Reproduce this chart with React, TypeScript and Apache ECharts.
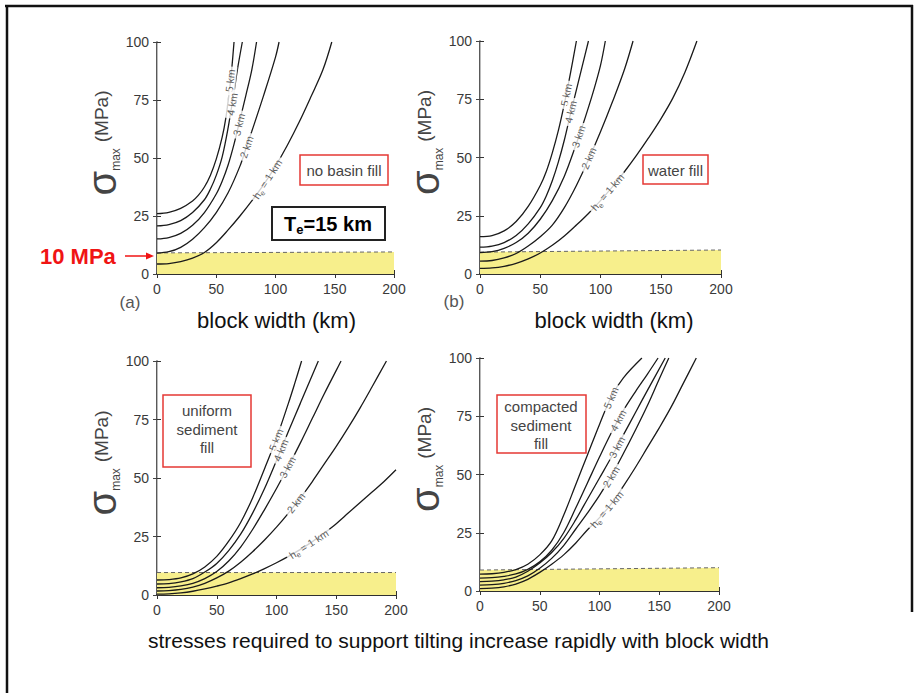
import React, { useEffect, useRef } from "react";
import * as echarts from "echarts";

// ---------- data ----------
const xTickInterval = 50;
const yTickInterval = 25;
const xMax = 200;
const yMax = 100;

const thicknessNames = ["5 km", "4 km", "3 km", "2 km", "h{e|e} = 1 km"];
const panelLetters = ["(a)", "(b)"];
const fillTypes = ["no basin fill", "water fill", "uniform\nsediment\nfill", "compacted\nsediment\nfill"];
const xAxisTitle = "block width (km)";
const caption = "stresses required to support tilting increase rapidly with block width";
const thresholdLabel = "10 MPa";

// (a) no basin fill
const a5 = [[0,26],[10,26.6],[20,28.3],[30,31.5],[35,34],[40,37.5],[45,42.5],[50,49.5],[55,59],[58,67],[61,78.5],[63,88],[65,100]];
const a4 = [[0,20.7],[10,21.3],[20,23],[30,26.5],[40,32],[45,36.5],[50,42.5],[55,50.5],[60,63],[65,78.5],[68,88.5],[72,100]];
const a3 = [[0,15.1],[10,15.7],[20,17.5],[30,21],[40,26.5],[50,34.5],[55,40],[60,47],[65,56],[70,66.5],[75,77],[80,88],[84,100]];
const a2 = [[0,9],[10,9.6],[20,11.5],[30,15],[40,20],[50,26.5],[60,35],[70,46.5],[75,54],[80,61.5],[90,77],[100,93.5],[103,100]];
const a1 = [[0,4.3],[10,4.5],[20,5.3],[30,6.8],[40,9.3],[50,13.5],[60,19],[70,25],[80,31.5],[90,38.5],[100,46.5],[110,55.5],[120,65.5],[130,76.5],[140,88],[147.5,100]];
const bandA = [[0,9.1],[200,9.5]];
const labelXA = [62, 63.3, 69, 75.5, 93];

// (b) water fill
const b5 = [[0,16],[10,16.5],[20,18.5],[30,22.5],[40,29],[50,38],[55,44],[60,52],[65,61.5],[70,73],[75,86],[80,100]];
const b4 = [[0,11.5],[10,12],[20,13.5],[30,16.5],[40,21.5],[50,28.5],[55,33.5],[60,40],[65,48],[70,57.5],[75,68.5],[80,79],[85,89.5],[90,100]];
const b3 = [[0,9.2],[10,9.6],[20,11],[30,13.5],[40,17.5],[50,23.5],[60,31.5],[70,42],[80,56],[85,63.5],[90,71.5],[95,80],[100,89.5],[104,100]];
const b2 = [[0,5.5],[10,5.8],[20,6.9],[30,8.8],[40,12],[50,16],[60,21],[70,28.5],[80,38],[90,49],[100,61],[110,74],[120,88],[127,100]];
const b1 = [[0,2.4],[10,2.6],[20,3.3],[30,4.6],[40,6.5],[50,9],[60,12.3],[70,16.3],[80,21],[90,26],[100,31.5],[110,37.5],[120,44],[130,51],[140,58.5],[150,66.5],[160,75.5],[170,86.5],[180,100]];
const bandB = [[0,9.4],[200,10.3]];
const labelXB = [71.5, 75.5, 82, 90.5, 106];

// (c) uniform sediment fill
const c5 = [[0,6.4],[10,6.6],[20,7.3],[30,9],[40,12],[50,16.5],[60,23],[70,31],[80,41.5],[90,54],[100,67],[110,82],[115,90],[121,100]];
const c4 = [[0,4.7],[10,4.9],[20,5.6],[30,7],[40,9.8],[50,13.5],[60,19],[70,26],[80,35],[90,45.5],[100,57.5],[110,70],[120,82],[130,94],[135,100]];
const c3 = [[0,3.1],[10,3.3],[20,3.9],[30,5],[40,7],[50,10],[60,14.5],[70,20.5],[80,28],[90,36.5],[100,45.5],[110,55],[120,65],[130,75.5],[140,86],[150,96],[154,100]];
const c2 = [[0,1.7],[10,1.9],[20,2.4],[30,3.4],[40,5],[50,7.3],[60,10.2],[70,14],[80,18.5],[90,23.5],[100,29],[110,35],[120,41.5],[130,48.5],[140,56],[150,63.5],[160,71.5],[170,80],[180,89],[192,100]];
const c1 = [[0,0.4],[10,0.5],[20,0.9],[30,1.6],[40,2.6],[50,3.8],[60,5.2],[70,7],[80,9],[90,11.3],[100,13.8],[110,16.5],[120,19.5],[130,22.8],[140,26.5],[150,30.5],[160,35],[170,39.5],[180,44],[190,48.5],[200,53.5]];
const bandC = [[0,9.6],[200,9.6]];
const labelXC = [99.5, 103.5, 109.5, 116.5, 127];

// (d) compacted sediment fill
const d5 = [[0,7.2],[10,7.4],[20,8],[30,9.2],[40,11.5],[50,15.5],[60,21.5],[70,32.5],[80,45.5],[90,58.5],[100,71.5],[110,83.5],[120,91.5],[135.5,100]];
const d4 = [[0,5.5],[10,5.7],[20,6.3],[30,7.3],[40,9.3],[50,12.5],[60,17.5],[70,25],[80,35.5],[90,46.5],[100,57.5],[110,68],[120,77.5],[130,85.5],[140,93],[149,100]];
const d3 = [[0,4],[10,4.2],[20,4.8],[30,6],[40,8.5],[50,12],[60,16.5],[70,22.5],[80,30.5],[90,39.5],[100,48.5],[110,57.5],[120,67],[130,76.5],[140,86],[155,100]];
const d2 = [[0,2.5],[10,2.7],[20,3.3],[30,4.5],[40,6.5],[50,9.8],[60,14],[70,19.5],[80,26.5],[90,33.5],[100,41],[110,49.5],[120,59],[130,69],[140,79.5],[150,91],[158,100]];
const d1 = [[0,1],[10,1.2],[20,1.8],[30,3],[40,5],[50,8],[60,11.5],[70,15.5],[80,20.5],[90,26.3],[100,31.5],[110,37.5],[120,45],[130,53],[140,61.5],[150,70],[160,79],[170,89],[181,100]];
const bandD = [[0,9],[200,10]];
const labelXD = [109.5, 115.5, 114.5, 109.5, 106];

// ---------- layout ----------
const FONT = "'Liberation Sans', Arial, Helvetica, sans-serif";
const grids = [
  { left: 157, top: 42, width: 237, height: 232 },
  { left: 480, top: 41, width: 241, height: 233 },
  { left: 157, top: 361, width: 239, height: 234 },
  { left: 480, top: 358, width: 239, height: 233 },
];
const panels = [
  { curves: [a5, a4, a3, a2, a1], band: bandA, labelX: labelXA },
  { curves: [b5, b4, b3, b2, b1], band: bandB, labelX: labelXB },
  { curves: [c5, c4, c3, c2, c1], band: bandC, labelX: labelXC },
  { curves: [d5, d4, d3, d2, d1], band: bandD, labelX: labelXD },
];

function interp(c: number[][], x: number): number {
  for (let i = 0; i < c.length - 1; i++) {
    if (x >= c[i][0] && x <= c[i + 1][0]) {
      const t = (x - c[i][0]) / (c[i + 1][0] - c[i][0]);
      return c[i][1] + t * (c[i + 1][1] - c[i][1]);
    }
  }
  return c[c.length - 1][1];
}
function slopeAt(c: number[][], x: number): number {
  for (let i = 0; i < c.length - 1; i++) {
    if (x >= c[i][0] && x <= c[i + 1][0]) {
      return (c[i + 1][1] - c[i][1]) / (c[i + 1][0] - c[i][0]);
    }
  }
  return 1;
}

const TXT = "#3a3a3a";

function buildOption() {
  const xAxis: any[] = [];
  const yAxis: any[] = [];
  const series: any[] = [];
  grids.forEach((g, i) => {
    const common = { type: "value", gridIndex: i, splitLine: { show: false } };
    xAxis.push({
      ...common, position: "bottom", min: 0, max: xMax, interval: xTickInterval,
      axisLine: { show: true, lineStyle: { color: "#222", width: 1.5 } },
      axisTick: { show: true, inside: true, length: 4, lineStyle: { color: "#333" } },
      axisLabel: { color: TXT, fontSize: 14, margin: 8, fontFamily: FONT },
    });
    xAxis.push({
      ...common, position: "top", min: 0, max: xMax, interval: xTickInterval,
      axisLine: { show: true, lineStyle: { color: "#222", width: 1.5 } },
      axisTick: { show: true, inside: true, length: 4, lineStyle: { color: "#333" } },
      axisLabel: { show: false },
    });
    yAxis.push({
      ...common, position: "left", min: 0, max: yMax, interval: yTickInterval,
      axisLine: { show: true, lineStyle: { color: "#222", width: 1.5 } },
      axisTick: { show: true, inside: true, length: 4, lineStyle: { color: "#333" } },
      axisLabel: { color: TXT, fontSize: 14, margin: 8, fontFamily: FONT },
      name: "{s|σ}{m|max}{g| }{u|(MPa)}",
      nameLocation: "middle",
      nameRotate: 90,
      nameGap: 20,
      nameTextStyle: {
        color: "#444",
        padding: [0, 0, 0, 30],
        rich: {
          s: { fontSize: 40, fontFamily: FONT, color: "#444", lineHeight: 40 },
          m: { fontSize: 12, fontFamily: FONT, color: "#444", verticalAlign: "bottom", lineHeight: 16 },
          g: { fontSize: 10, width: 6 },
          u: { fontSize: 19, fontFamily: FONT, color: "#444", lineHeight: 40 },
        },
      },
    });
    yAxis.push({
      ...common, position: "right", min: 0, max: yMax, interval: yTickInterval,
      axisLine: { show: true, lineStyle: { color: "#bbb", width: 1 } },
      axisTick: { show: true, inside: true, length: 4, lineStyle: { color: "#444" } },
      axisLabel: { show: false },
    });

    const p = panels[i];
    const xi = i * 2;
    series.push({
      type: "line", xAxisIndex: xi, yAxisIndex: xi, data: p.band, symbol: "none", silent: true, z: 1,
      lineStyle: { color: "#666", width: 1, type: [4, 3] },
      areaStyle: { color: "#f7ef8c", opacity: 1, origin: 0 },
    });
    p.curves.forEach((c) => {
      series.push({
        type: "line", xAxisIndex: xi, yAxisIndex: xi, data: c, symbol: "none", smooth: 0.35,
        clip: true, silent: true, z: 3,
        lineStyle: { color: "#1a1a1a", width: 1.3 },
      });
    });
    const pxX = g.width / xMax;
    const pxY = g.height / yMax;
    series.push({
      type: "scatter", xAxisIndex: xi, yAxisIndex: xi, symbol: "circle", symbolSize: 2, silent: true, z: 6,
      itemStyle: { color: "rgba(255,255,255,0)" },
      data: p.curves.map((c, k) => {
        const x = p.labelX[k];
        const y = interp(c, x);
        const ang = (Math.atan((slopeAt(c, x) * pxY) / pxX) * 180) / Math.PI;
        return { value: [x, y], name: thicknessNames[k], label: { rotate: ang } };
      }),
      label: {
        show: true, position: "inside", align: "center", verticalAlign: "middle",
        formatter: (q: any) => q.name,
        fontSize: 10.5, color: "#333", fontFamily: FONT,
        backgroundColor: "#fff", padding: [0, 3],
        rich: { e: { fontSize: 7.5, color: "#333", fontFamily: FONT, padding: [7, 0, 0, 0] } },
      },
    });
  });

  const redBox = (x: number, y: number, w: number, h: number) => ({
    type: "rect", shape: { x, y, width: w, height: h }, z: 20,
    style: { fill: "rgba(255,255,255,0)", stroke: "#e53935", lineWidth: 1.5 },
  });
  const boxText = (x: number, y: number, t: string) => ({
    type: "text", x, y, z: 21,
    style: { text: t, fill: "#444", fontSize: 15, fontFamily: FONT, align: "center", verticalAlign: "middle", lineHeight: 18.5 },
  });
  const plain = (x: number, y: number, t: string, size: number, color: string, extra: any = {}) => ({
    type: "text", x, y, z: 21,
    style: { text: t, fill: color, fontSize: size, fontFamily: FONT, align: "center", verticalAlign: "middle", ...extra },
  });

  const graphic: any[] = [
    { type: "line", shape: { x1: 5, y1: 6, x2: 913, y2: 6 }, style: { stroke: "#111", lineWidth: 2.5 }, z: 30 },
    { type: "line", shape: { x1: 7, y1: 5, x2: 7, y2: 693 }, style: { stroke: "#111", lineWidth: 2.5 }, z: 30 },
    { type: "line", shape: { x1: 912, y1: 5, x2: 912, y2: 612 }, style: { stroke: "#111", lineWidth: 2.5 }, z: 30 },
    // Te box
    { type: "rect", shape: { x: 272, y: 207, width: 113, height: 33 }, z: 20, style: { fill: "#fff", stroke: "#222", lineWidth: 2 } },
    {
      type: "text", x: 328, y: 224, z: 21,
      style: {
        text: "{t|T}{e|e}{t|=15 km}", align: "center", verticalAlign: "middle",
        rich: {
          t: { fontSize: 20, fontWeight: "bold", fontFamily: FONT, fill: "#000", lineHeight: 24 },
          e: { fontSize: 13, fontWeight: "bold", fontFamily: FONT, fill: "#000", verticalAlign: "bottom", lineHeight: 13 },
        },
      },
    },
    // red boxes
    redBox(300, 155, 88, 30), boxText(344, 170, fillTypes[0]),
    redBox(643, 155, 65, 29), boxText(675.5, 170, fillTypes[1]),
    redBox(163, 395, 88, 72), boxText(207, 429, fillTypes[2]),
    redBox(497, 395, 89, 58), boxText(541, 425, fillTypes[3]),
    // 10 MPa arrow
    plain(40, 256, thresholdLabel, 22, "#f01414", { align: "left", fontWeight: "bold" }),
    { type: "line", shape: { x1: 125, y1: 256, x2: 147, y2: 256 }, style: { stroke: "#f01414", lineWidth: 1.5 }, z: 21 },
    { type: "polygon", shape: { points: [[146, 252.5], [154, 256], [146, 259.5]] }, style: { fill: "#f01414" }, z: 21 },
    // panel letters
    plain(130, 302, panelLetters[0], 17, "#555"),
    plain(454, 301, panelLetters[1], 17, "#555"),
    // x axis titles
    plain(276.5, 320, xAxisTitle, 22, "#111"),
    plain(614, 320, xAxisTitle, 22, "#111"),
    // caption
    plain(458.5, 640, caption, 21, "#111"),
  ];

  return {
    animation: false,
    backgroundColor: "#fff",
    textStyle: { fontFamily: FONT },
    grid: grids.map((g) => ({ ...g, containLabel: false })),
    xAxis, yAxis, series, graphic,
  };
}

export default function App() {
  const ref = useRef<HTMLDivElement>(null);
  useEffect(() => {
    document.body.style.margin = "0";
    const chart = echarts.init(ref.current!, null, { renderer: "svg" });
    chart.setOption(buildOption() as any);
    return () => chart.dispose();
  }, []);
  return <div ref={ref} style={{ position: "absolute", left: 0, top: 0, width: 919, height: 693 }} />;
}
